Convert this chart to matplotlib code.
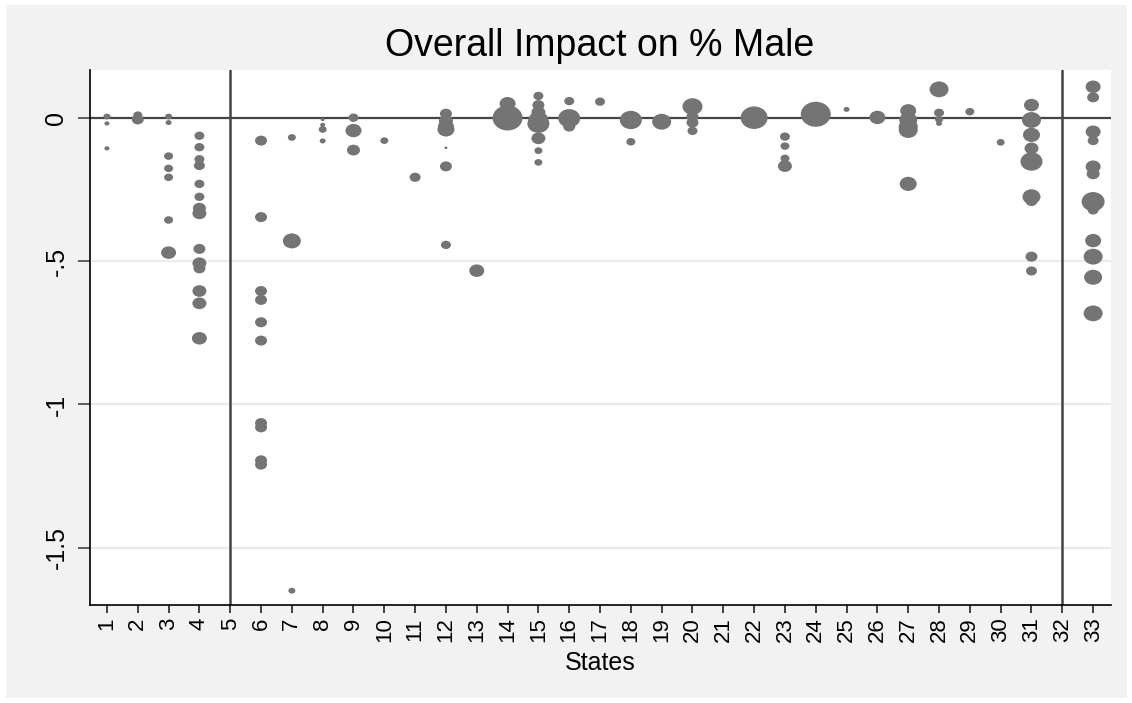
"""bubble plot of overall impact on % male by state"""

import matplotlib
matplotlib.use("Agg")
import matplotlib.pyplot as plt
from matplotlib.path import Path
from matplotlib.transforms import Affine2D
import numpy as np

plt.rcParams["font.family"] = ["Liberation Sans", "DejaVu Sans"]

# state of each estimate, the estimate itself and its weight
state = [1, 1, 1,
         2, 2,
         3, 3, 3, 3, 3, 3, 3,
         4, 4, 4, 4, 4, 4, 4, 4, 4, 4, 4, 4, 4, 4,
         6, 6, 6, 6, 6, 6, 6, 6, 6, 6,
         7, 7, 7,
         8, 8, 8, 8,
         9, 9, 9,
         10,
         11,
         12, 12, 12, 12, 12, 12, 12,
         13,
         14, 14, 14,
         15, 15, 15, 15, 15, 15, 15, 15,
         16, 16, 16,
         17,
         18, 18,
         19,
         20, 20, 20, 20,
         22,
         23, 23, 23, 23,
         24,
         25,
         26,
         27, 27, 27, 27, 27,
         28, 28, 28, 28,
         29,
         30,
         31, 31, 31, 31, 31, 31, 31, 31, 31,
         33, 33, 33, 33, 33, 33, 33, 33, 33, 33, 33, 33]

impact = [0.005, -0.019, -0.106,
          0.01, -0.005,
          0.005, -0.016, -0.133, -0.176, -0.207, -0.356, -0.470,
          -0.062, -0.102, -0.144, -0.166, -0.230, -0.275, -0.315, -0.333,
          -0.457, -0.507, -0.525, -0.604, -0.647, -0.769,
          -0.079, -0.346, -0.604, -0.635, -0.713, -0.777, -1.065, -1.08,
          -1.195, -1.21,
          -0.068, -0.429, -1.65,
          -0.005, -0.024, -0.04, -0.08,
          0.001, -0.044, -0.112,
          -0.079,
          -0.207,
          0.015, -0.01, -0.03, -0.04, -0.104, -0.169, -0.443,
          -0.533,
          0.05, 0.01, 0.0,
          0.077, 0.045, 0.02, -0.007, -0.02, -0.071, -0.114, -0.155,
          0.059, -0.001, -0.03,
          0.057,
          -0.007, -0.083,
          -0.013,
          0.04, 0.005, -0.016, -0.045,
          0.001,
          -0.065, -0.098, -0.141, -0.168,
          0.013,
          0.03,
          0.002,
          0.025, -0.007, -0.03, -0.042, -0.23,
          0.1, 0.018, -0.005, -0.019,
          0.022,
          -0.085,
          0.045, -0.007, -0.059, -0.106, -0.152, -0.275, -0.29, -0.484, -0.534,
          0.109, 0.072, -0.048, -0.079, -0.17, -0.195, -0.292, -0.321,
          -0.428, -0.484, -0.556, -0.682]

weight = [4.9, 2.5, 2.5,
          8.1, 14.4,
          4.9, 3.6, 8.1, 8.1, 8.1, 8.1, 22.5,
          10, 10, 10, 12.1, 10, 10, 16.9, 19.6, 14.4, 19.6, 14.4, 19.6,
          19.6, 22.5,
          14.4, 14.4, 14.4, 14.4, 14.4, 14.4, 14.4, 14.4, 14.4, 14.4,
          6.4, 32.4, 4.9,
          1.6, 2.5, 6.4, 3.6,
          10, 25.6, 16.9,
          6.4,
          12.1,
          14.4, 19.6, 25.6, 28.9, 0.9, 14.4, 10,
          22.5,
          25.6, 57.6, 90,
          10, 14.4, 19.6, 40, 48.4, 19.6, 6.4, 6.4,
          10, 48.4, 14.4,
          10,
          48.4, 8.1,
          36.1,
          40, 14.4, 14.4, 10,
          72.9,
          10, 8.1, 8.1, 19.6,
          90,
          3.6,
          25.6,
          25.6, 32.4, 36.1, 36.1, 28.9,
          36.1, 10, 6.4, 3.6,
          8.1,
          6.4,
          22.5, 36.1, 28.9, 19.6, 48.4, 32.4, 14.4, 14.4, 12.1,
          22.5, 14.4, 22.5, 12.1, 22.5, 16.9, 52.9, 12.1, 25.6, 36.1,
          32.4, 36.1]

y_ticks = [0, -0.5, -1, -1.5]
y_labels = ["0", "-.5", "-1", "-1.5"]
x_ticks = list(range(1, 34))
divider_states = [5, 32]

fig = plt.figure(figsize=(11.32, 7.03), dpi=100, facecolor="white")
fig.patches.append(plt.Rectangle((6 / 1132, 5 / 703), 1121 / 1132, 693 / 703,
                                 transform=fig.transFigure, facecolor="#f2f2f2",
                                 edgecolor="none", zorder=-10))
ax = fig.add_axes([90 / 1132, 1 - 605 / 703, 1021 / 1132, 535 / 703])
ax.set_facecolor("white")

# stata bubbles come out a bit wider than tall
ellipse = Path.unit_circle().transformed(Affine2D().scale(1.0, 1 / 1.2))
sizes = np.array(weight) * 5.18
ax.scatter(state, impact, s=sizes, marker=ellipse, color="#747474",
           linewidths=0, zorder=3)

for yv in y_ticks[1:]:
    ax.axhline(yv, color="#ebebeb", linewidth=1.6, zorder=1)
ax.axhline(0, color="#444444", linewidth=1.6, zorder=2)
for xv in divider_states:
    ax.axvline(xv, color="#444444", linewidth=1.8, zorder=2)

ax.set_xlim(0.45, 33.58)
ax.set_ylim(-1.70, 0.1675)

ax.set_yticks(y_ticks)
ax.set_yticklabels(y_labels, rotation=90, va="center", fontsize=18)
ax.set_xticks(x_ticks)
ax.set_xticklabels([str(s) for s in x_ticks], rotation=90, fontsize=16)
ax.tick_params(axis="y", length=8.5, width=1.2, color="#444444", pad=7)
ax.tick_params(axis="x", length=6, width=1.2, color="#222222", pad=3)

for side in ["top", "right"]:
    ax.spines[side].set_visible(False)
for side in ["left", "bottom"]:
    ax.spines[side].set_color("black")
    ax.spines[side].set_linewidth(1.2)

ax.set_xlabel("States", fontsize=18, labelpad=6)
fig.text(0.53, 1 - 46 / 703, "Overall Impact on % Male", ha="center",
         va="center", fontsize=27)

plt.savefig("out.png", dpi=100, facecolor=fig.get_facecolor())
